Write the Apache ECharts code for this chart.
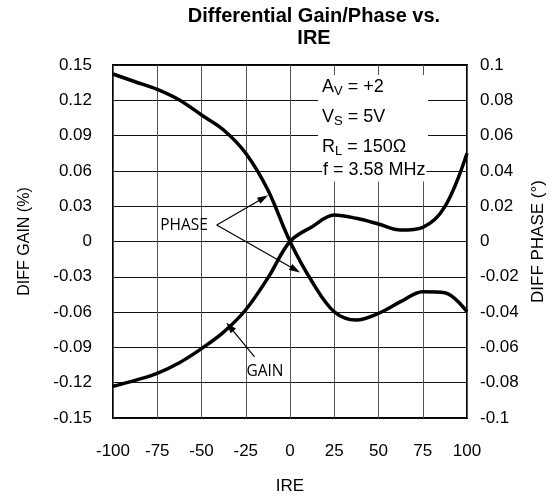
<!DOCTYPE html>
<html>
<head>
<meta charset="utf-8">
<script src="https://cdn.jsdelivr.net/npm/echarts@6/dist/echarts.min.js"></script>
<style>
  html, body { margin: 0; padding: 0; background: #fff; }
  #chart { width: 555px; height: 500px; }
</style>
</head>
<body>
<div id="chart"></div>
<script>
const ire = [-100, -87.5, -75, -62.5, -50, -37.5, -25, -12.5, 0, 12.5, 25, 37.5, 50, 62.5, 75, 87.5, 100]
// DIFF GAIN (%), left axis
const gain = [-0.123, -0.118, -0.112, -0.103, -0.091, -0.077, -0.058, -0.031, 0, 0.0126, 0.0225, 0.0197, 0.0149, 0.0098, 0.0121, 0.0296, 0.075]
// DIFF PHASE (deg), right axis
const phase = [0.0949, 0.0905, 0.0862, 0.0802, 0.0717, 0.0632, 0.05, 0.0292, 0, -0.0228, -0.0398, -0.0445, -0.0407, -0.0341, -0.0284, -0.029, -0.0398]

const conditions = ['{n|A}{s|V}{n| = +2}', '{n|V}{s|S}{n| = 5V}', '{n|R}{s|L}{n| = 150Ω}']

const font = 'Liberation Sans, Arial, sans-serif'
const chart = echarts.init(document.getElementById('chart'))

function fmt(v) {
  return String(parseFloat(v.toFixed(2)))
}

const richText = {
  n: { fontSize: 18, fontFamily: font, fill: '#000', lineHeight: 22, verticalAlign: 'middle' },
  s: { fontSize: 13, fontFamily: font, fill: '#000', lineHeight: 13, verticalAlign: 'bottom' }
}

const arrow = {
  symbol: ['none', 'triangle'],
  symbolSize: [7, 11],
  label: { show: false },
  lineStyle: { color: '#000', width: 1.2, type: 'solid' },
  silent: true
}

const option = {
  animation: false,
  grid: {
    left: 113, right: 88, top: 65, bottom: 82,
    show: true, borderColor: '#000', borderWidth: 2, backgroundColor: 'transparent'
  },
  xAxis: {
    type: 'value', min: -100, max: 100, interval: 25,
    name: 'IRE', nameLocation: 'middle', nameGap: 60,
    nameTextStyle: { fontFamily: font, fontSize: 17, color: '#000' },
    axisLine: { show: false }, axisTick: { show: false },
    axisLabel: { fontFamily: font, fontSize: 17, color: '#000', margin: 25 },
    splitLine: { show: true, lineStyle: { color: '#555', width: 1 } }
  },
  yAxis: [
    {
      type: 'value', min: -0.15, max: 0.15, interval: 0.03,
      name: 'DIFF GAIN (%)', nameLocation: 'middle', nameGap: 80,
      nameTextStyle: { fontFamily: font, fontSize: 16, color: '#000' },
      axisLine: { show: false }, axisTick: { show: false },
      axisLabel: { fontFamily: font, fontSize: 17, color: '#000', margin: 21, formatter: fmt },
      splitLine: { show: true, lineStyle: { color: '#111', width: 1 } }
    },
    {
      type: 'value', min: -0.1, max: 0.1, interval: 0.02,
      name: 'DIFF PHASE (°)', nameLocation: 'middle', nameGap: 63, nameRotate: 90,
      nameTextStyle: { fontFamily: font, fontSize: 17, color: '#000' },
      axisLine: { show: false }, axisTick: { show: false },
      axisLabel: { fontFamily: font, fontSize: 17, color: '#000', margin: 13, formatter: fmt },
      splitLine: { show: false }
    }
  ],
  graphic: [
    {
      type: 'text', z: 5, x: 314, y: 27,
      style: {
        text: 'Differential Gain/Phase vs.\nIRE', fontSize: 20, fontWeight: 'bold', fontFamily: font,
        lineHeight: 22, fill: '#000', align: 'center', verticalAlign: 'middle'
      }
    },
    // white box behind the test conditions
    { type: 'rect', z: 1, shape: { x: 318, y: 75, width: 110, height: 88 }, style: { fill: '#fff' } },
    ...conditions.map((t, i) => ({
      type: 'text', z: 5, x: 322, y: 87 + i * 30,
      style: { text: t, rich: richText, verticalAlign: 'middle' }
    })),
    {
      type: 'text', z: 5, x: 322, y: 170,
      style: {
        text: 'f = 3.58 MHz', fontSize: 18, fontFamily: font, fill: '#000',
        verticalAlign: 'middle', backgroundColor: '#fff', padding: [2, 1, 3, 1]
      }
    },
    {
      type: 'text', z: 5, x: 184, y: 226,
      style: { text: 'PHASE', fontSize: 15.5, fontFamily: 'Open Sans, sans-serif', fill: '#000', align: 'center', verticalAlign: 'middle' }
    },
    {
      type: 'text', z: 5, x: 265, y: 372,
      style: { text: 'GAIN', fontSize: 15.5, fontFamily: 'Open Sans, sans-serif', fill: '#000', align: 'center', verticalAlign: 'middle' }
    }
  ],
  series: [
    {
      name: 'GAIN', type: 'line', yAxisIndex: 0, z: 4,
      data: ire.map((x, i) => [x, gain[i]]),
      smooth: 0.35, showSymbol: false,
      lineStyle: { color: '#000', width: 3.5 },
      markLine: {
        ...arrow,
        data: [
          [{ coord: [-41.4, 0.014] }, { coord: [-15, 0.037] }],
          [{ coord: [-41.4, 0.014] }, { coord: [3, -0.024] }],
          [{ coord: [-20, -0.098] }, { coord: [-34, -0.0725] }]
        ]
      }
    },
    {
      name: 'PHASE', type: 'line', yAxisIndex: 1, z: 4,
      data: ire.map((x, i) => [x, phase[i]]),
      smooth: 0.35, showSymbol: false,
      lineStyle: { color: '#000', width: 3.5 }
    }
  ]
}

chart.setOption(option)
window.addEventListener('resize', () => chart.resize())
</script>
</body>
</html>
